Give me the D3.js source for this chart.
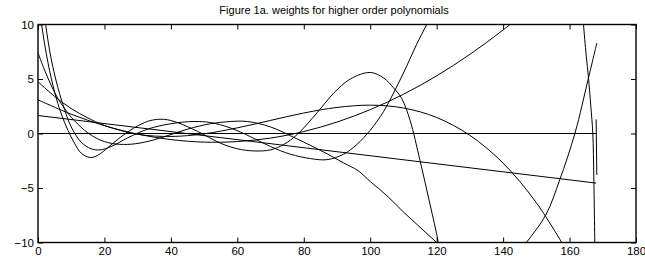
<!DOCTYPE html>
<html><head><meta charset="utf-8">
<script src="https://cdn.jsdelivr.net/npm/d3@7"></script>
<style>
html,body{margin:0;padding:0;background:#fff;}
svg{display:block;font-family:"Liberation Sans",Arial,Helvetica,sans-serif;}
</style></head>
<body><svg id="c" width="645" height="268"></svg>
<script>
// ---- data ----
const titleText = "Figure 1a. weights for higher order polynomials";
const xTicks = [0,20,40,60,80,100,120,140,160,180];
const yTicks = [-10,-5,0,5,10];
const xDomain = [0,180];
const yDomain = [-10,10];

const order0 = [[0,0],[168,0]];
const order0Tail = [[168,1.3],[168.2,-3.8]];
const order1 = [[0,1.65],[168,-4.55]];
const order2 = [[0,3.09],[10,1.77],[20,0.72],[30,-0.06],[40,-0.56],[50,-0.79],[60,-0.74],[70,-0.42],[80,0.18],[90,1.05],[100,2.19],[110,3.6],[120,5.29],[130,7.26],[140,9.5],[150,12.0]];
const order3 = [[0,4.75],[5,3.4],[10,2.29],[15,1.43],[20,0.74],[30,-0.07],[40,-0.27],[50,-0.03],[60,0.52],[70,1.2],[80,1.88],[90,2.39],[100,2.6],[110,2.34],[120,1.47],[130,-0.17],[140,-2.72],[150,-6.35],[160,-11.2]];
const order4a = [[0,7.4],[2,5.8],[4,4.4],[6,3.2],[8,2.3],[10,1.5],[14,0.3],[18,-0.5],[22,-0.9],[27,-1.0],[32,-0.8],[38,-0.3],[45,0.4],[52,0.9],[58,1.1],[63,1.1],[70,0.6],[78,-0.5],[86,-1.7],[92,-2.7],[96.3,-3.4],[100,-4.4],[105,-5.7],[110,-7.2],[115,-8.6],[120,-10],[125,-11.3]];
const order4b = [[143,-11.5],[147,-10],[152.8,-7.5],[157.1,-4.2],[161.6,0],[165.7,5.1],[168.2,8.3]];
const order5 = [[0,13],[1.1,10],[3,6.5],[5,3.8],[7,1.8],[9,0.3],[11,-0.9],[13,-1.8],[15.7,-2.2],[18,-2.0],[21,-1.3],[25,-0.3],[30,0.7],[34,1.2],[38,1.3],[42,1.0],[48,0.2],[55,-0.9],[60,-1.4],[65,-1.6],[70,-1.5],[74,-1.0],[78,-0.1],[84,1.9],[89,3.7],[94,5.0],[100,5.6],[104,5.1],[107,4.2],[109.5,3.2],[112,1.2],[115,-2.5],[118,-6.5],[120.5,-10],[122,-13]];
const order6a = [[0,16],[2.3,10],[4,6.8],[6,4.2],[8,2.2],[10,0.6],[13,-0.8],[16,-1.4],[18.7,-1.5],[22,-1.2],[27,-0.4],[33,0.4],[40,0.9],[47,1.1],[52,1.0],[58,0.5],[64,-0.3],[70,-1.2],[76,-1.9],[82,-2.3],[87,-2.4],[92,-1.9],[96,-1.0],[100,0.3],[104,2.0],[107.5,4.0],[111,6.2],[114,8.2],[117,10],[120,12]];
const order6b = [[163.8,12],[164.2,10],[165,7.2],[165.7,5.1],[166.4,2.5],[167,0],[167.3,-4],[167.5,-8],[167.6,-10],[167.7,-12]];

const curves = [order0, order0Tail, order1, order2, order3, order4a, order4b, order5, order6a, order6b];

// ---- drawing ----
const L = 38, R = 636, T = 24.5, B = 242.5;
const svg = d3.select("#c");
const x = d3.scaleLinear().domain(xDomain).range([L, R]);
const y = d3.scaleLinear().domain(yDomain).range([B, T]);

svg.append("defs").append("clipPath").attr("id","clip")
  .append("rect").attr("x",L).attr("y",T).attr("width",R-L).attr("height",B-T);

const line = d3.line().x(d=>x(d[0])).y(d=>y(d[1])).curve(d3.curveCatmullRom.alpha(0.5));
const g = svg.append("g").attr("clip-path","url(#clip)");
g.selectAll("path").data(curves).join("path")
  .attr("d", line).attr("fill","none").attr("stroke","#000").attr("stroke-width",1);

function styleAxis(sel, hideLabels){
  sel.select(".domain").remove();
  sel.selectAll(".tick line").attr("stroke","#000").attr("stroke-width",1);
  sel.selectAll(".tick text").attr("fill","#000").style("font-size","11.5px")
     .style("font-family",'"Liberation Sans",Arial,Helvetica,sans-serif');
  if (hideLabels) sel.selectAll(".tick text").remove();
}
const fmt = d => d < 0 ? "\u2212" + Math.abs(d) : String(d);

svg.append("g").attr("transform",`translate(0,${B})`)
  .call(d3.axisBottom(x).tickValues(xTicks).tickSizeInner(-5).tickSizeOuter(0).tickPadding(4).tickFormat(fmt))
  .call(s=>styleAxis(s,false));
svg.append("g").attr("transform",`translate(0,${T})`)
  .call(d3.axisTop(x).tickValues(xTicks).tickSizeInner(-5).tickSizeOuter(0))
  .call(s=>styleAxis(s,true));
svg.append("g").attr("transform",`translate(${L},0)`)
  .call(d3.axisLeft(y).tickValues(yTicks).tickSizeInner(-5).tickSizeOuter(0).tickPadding(4).tickFormat(fmt))
  .call(s=>styleAxis(s,false));
svg.append("g").attr("transform",`translate(${R},0)`)
  .call(d3.axisRight(y).tickValues(yTicks).tickSizeInner(-5).tickSizeOuter(0))
  .call(s=>styleAxis(s,true));

svg.append("rect").attr("x",L).attr("y",T).attr("width",R-L).attr("height",B-T)
  .attr("fill","none").attr("stroke","#000").attr("stroke-width",1.4);

svg.append("text").attr("x",(L+R)/2 - 3).attr("y",14).attr("text-anchor","middle")
  .style("font-size","11px").attr("fill","#000").text(titleText);
</script>
</body></html>
